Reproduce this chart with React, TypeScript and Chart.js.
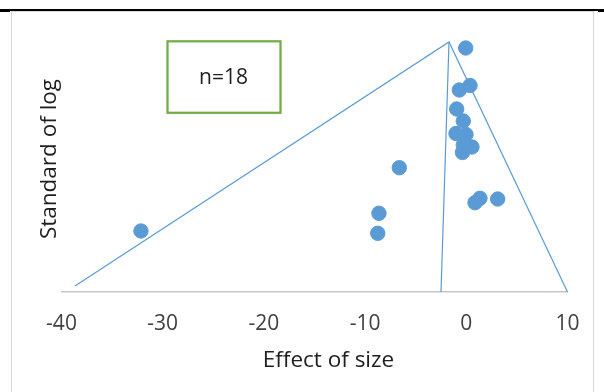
import React, { useEffect, useRef } from "react";
import { Chart, registerables } from "chart.js";

Chart.register(...registerables);

// Study estimates (effect of size) and their vertical position (standard of log)
const effectSizes = [-0.06, -0.69, 0.37, -0.95, -0.3, -1.02, -0.03, -0.3, 0.56, -0.38, 0.07, -6.62, -8.63, -8.75, 0.86, 1.35, 3.1, -32.15];
const standardValues = [2.44, 2.02, 2.065, 1.83, 1.71, 1.585, 1.575, 1.47, 1.45, 1.395, 1.46, 1.243, 0.787, 0.587, 0.893, 0.937, 0.93, 0.61];

// Funnel outline: left leg, apex, right leg
const funnelOuterX = [-38.67, -1.71, 10];
const funnelOuterY = [0.06, 2.5, 0];
// Line from the apex down to the axis
const funnelMidX = [-1.71, -2.5];
const funnelMidY = [2.5, 0];

const xTickValues = [-40, -30, -20, -10, 0, 10];
const studyCount = "n=18";
const xTitle = "Effect of size";
const yTitle = "Standard of log";

const BLUE = "#5B9BD5";
const FONT = '"Open Sans", "DejaVu Sans", sans-serif';

const overlayText = {
  id: "overlayText",
  afterDraw(chart: any) {
    const ctx = chart.ctx as CanvasRenderingContext2D;
    ctx.save();
    // vertical axis title
    ctx.translate(55.5, 159);
    ctx.rotate(-Math.PI / 2);
    ctx.font = `22.5px ${FONT}`;
    ctx.fillStyle = "#1f1f1f";
    ctx.textAlign = "center";
    ctx.textBaseline = "alphabetic";
    ctx.fillText(yTitle, 0, 0);
    ctx.restore();

    // horizontal axis title
    ctx.save();
    ctx.font = `22.5px ${FONT}`;
    ctx.fillStyle = "#1f1f1f";
    ctx.textAlign = "center";
    ctx.textBaseline = "alphabetic";
    ctx.fillText(xTitle, 328.5, 366.5);
    ctx.restore();

    // count box
    ctx.save();
    ctx.strokeStyle = "#70AD47";
    ctx.lineWidth = 2.25;
    ctx.strokeRect(167.5, 41.3, 113, 71.5);
    ctx.font = `21px ${FONT}`;
    ctx.fillStyle = "#1f1f1f";
    ctx.textAlign = "center";
    ctx.textBaseline = "middle";
    ctx.fillText(studyCount, 223.5, 78);
    ctx.restore();
  },
};

export default function App() {
  const canvasRef = useRef<HTMLCanvasElement | null>(null);

  useEffect(() => {
    if (!canvasRef.current) return;
    const points = effectSizes.map((x, i) => ({ x, y: standardValues[i] }));
    const outer = funnelOuterX.map((x, i) => ({ x, y: funnelOuterY[i] }));
    const mid = funnelMidX.map((x, i) => ({ x, y: funnelMidY[i] }));

    const chart = new Chart(canvasRef.current, {
      type: "scatter",
      data: {
        datasets: [
          {
            type: "line",
            data: outer,
            borderColor: BLUE,
            borderWidth: 1.2,
            pointRadius: 0,
            showLine: true,
            fill: false,
            tension: 0,
            clip: false,
          } as any,
          {
            type: "line",
            data: mid,
            borderColor: BLUE,
            borderWidth: 1.2,
            pointRadius: 0,
            showLine: true,
            fill: false,
            tension: 0,
            clip: false,
          } as any,
          {
            data: points,
            backgroundColor: BLUE,
            borderColor: BLUE,
            borderWidth: 1,
            pointRadius: 7.2,
            clip: false,
          } as any,
        ],
      },
      options: {
        responsive: false,
        animation: false,
        devicePixelRatio: 1,
        layout: { padding: { left: 61.5, right: 36.5, top: 42, bottom: 0 } },
        plugins: {
          legend: { display: false },
          tooltip: { enabled: false },
        },
        scales: {
          x: {
            type: "linear",
            min: xTickValues[0],
            max: xTickValues[xTickValues.length - 1],
            afterBuildTicks: (scale: any) => {
              scale.ticks = xTickValues.map((v) => ({ value: v }));
            },
            afterFit: (scale: any) => {
              scale.height = 100;
            },
            grid: { display: false, drawTicks: false },
            border: { display: true, color: "#c6c6c6", width: 1.5 },
            ticks: {
              padding: 19.5,
              color: "#404040",
              font: { family: FONT, size: 21 },
              maxRotation: 0,
            },
            title: { display: false },
          },
          y: {
            type: "linear",
            display: false,
            min: 0,
            max: 2.5,
          },
        },
      },
      plugins: [overlayText],
    });
    return () => chart.destroy();
  }, []);

  return (
    <div style={{ position: "fixed", left: 0, top: 0, width: 604, height: 392, background: "#fff", overflow: "hidden" }}>
      <div style={{ position: "absolute", left: 0, top: 9, width: 604, height: 1.5, background: "#000" }} />
      <div style={{ position: "absolute", left: 0, top: 9, width: 10, height: 2.5, background: "#000" }} />
      <div style={{ position: "absolute", left: 598, top: 9, width: 6, height: 2.5, background: "#000" }} />
      <div style={{ position: "absolute", left: 10.5, top: 10.5, width: 583, height: 400, border: "1.5px solid #d6d6d6", boxSizing: "border-box" }} />
      <canvas ref={canvasRef} width={604} height={392} style={{ position: "absolute", left: 0, top: 0, width: 604, height: 392 }} />
    </div>
  );
}
